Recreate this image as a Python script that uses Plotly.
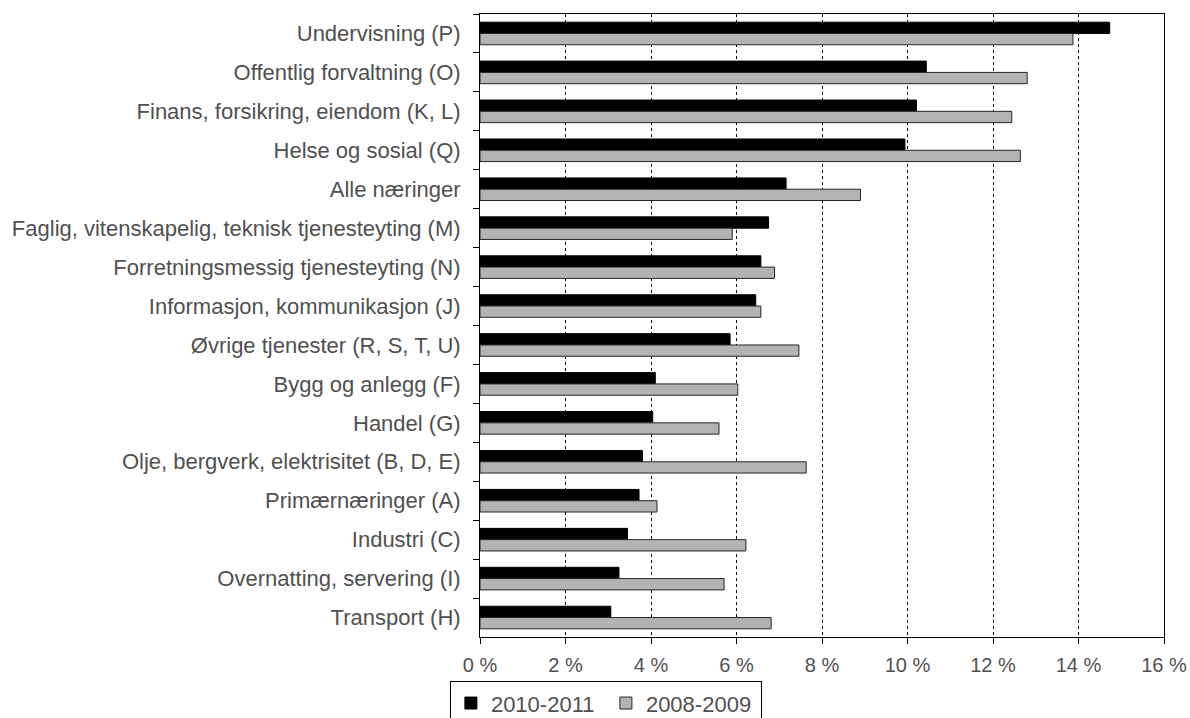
import plotly.graph_objects as go

# Industries, listed top to bottom
categories = [
    "Undervisning (P)",
    "Offentlig forvaltning (O)",
    "Finans, forsikring, eiendom (K, L)",
    "Helse og sosial (Q)",
    "Alle næringer",
    "Faglig, vitenskapelig, teknisk tjenesteyting (M)",
    "Forretningsmessig tjenesteyting (N)",
    "Informasjon, kommunikasjon (J)",
    "Øvrige tjenester (R, S, T, U)",
    "Bygg og anlegg (F)",
    "Handel (G)",
    "Olje, bergverk, elektrisitet (B, D, E)",
    "Primærnæringer (A)",
    "Industri (C)",
    "Overnatting, servering (I)",
    "Transport (H)",
]

# Shares in percent
values_2010_2011 = [14.73, 10.44, 10.21, 9.94, 7.16, 6.75, 6.57, 6.45, 5.85,
                    4.10, 4.04, 3.80, 3.72, 3.45, 3.25, 3.06]
values_2008_2009 = [13.87, 12.80, 12.44, 12.64, 8.90, 5.90, 6.89, 6.57, 7.46,
                    6.03, 5.59, 7.63, 4.14, 6.22, 5.71, 6.81]

x_tick_values = [0, 2, 4, 6, 8, 10, 12, 14, 16]
x_tick_labels = ["0 %", "2 %", "4 %", "6 %", "8 %", "10 %", "12 %", "14 %", "16 %"]

FONT = "Liberation Sans, Arial, sans-serif"
TEXT_COLOR = "#505050"

fig = go.Figure()
fig.add_trace(go.Bar(
    name="2010-2011", y=categories, x=values_2010_2011, orientation="h",
    marker=dict(color="#000000", line=dict(color="#000000", width=1)),
))
fig.add_trace(go.Bar(
    name="2008-2009", y=categories, x=values_2008_2009, orientation="h",
    marker=dict(color="#b3b3b3", line=dict(color="#262626", width=1)),
))

fig.update_layout(
    width=1190, height=718,
    margin=dict(l=480, r=26, t=14, b=81, autoexpand=False),
    paper_bgcolor="white", plot_bgcolor="white",
    barmode="group", bargap=0.42, bargroupgap=0,
    font=dict(family=FONT, size=20, color=TEXT_COLOR),
    legend=dict(
        orientation="h", x=-0.044, xanchor="left", y=-0.071, yanchor="top",
        bordercolor="#000000", borderwidth=1, bgcolor="white",
        font=dict(family=FONT, size=22, color=TEXT_COLOR),
        itemwidth=30, entrywidth=110, tracegroupgap=0,
    ),
    showlegend=True,
)

fig.update_xaxes(
    range=[0, 16], tickvals=x_tick_values, ticktext=x_tick_labels,
    showgrid=True, gridcolor="#000000", gridwidth=1, griddash="dot",
    showline=True, linecolor="#000000", linewidth=1, mirror=True,
    ticks="outside", ticklen=6, tickcolor="#000000",
    tickfont=dict(family=FONT, size=20, color=TEXT_COLOR),
    ticklabelstandoff=4,
    zeroline=False,
)
fig.update_yaxes(
    type="category", categoryorder="array", categoryarray=categories,
    autorange="reversed",
    showline=True, linecolor="#000000", linewidth=1, mirror=True,
    ticks="outside", ticklen=6, tickcolor="#000000", tickson="boundaries",
    tickfont=dict(family=FONT, size=22, color=TEXT_COLOR),
    ticklabelstandoff=14,
    showgrid=False,
)

fig.write_html("out.html")
